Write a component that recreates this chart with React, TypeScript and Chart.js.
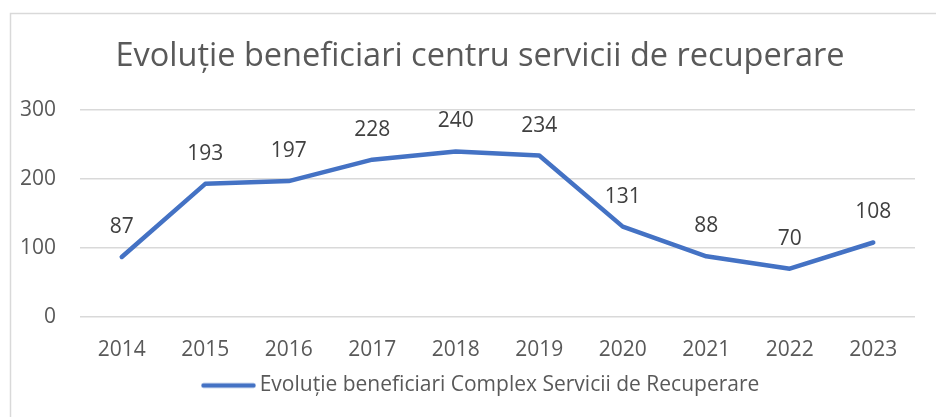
import React, { useEffect, useRef } from "react";
import { Chart, registerables } from "chart.js";

Chart.register(...registerables);

const TITLE = "Evoluție beneficiari centru servicii de recuperare";
const SERIES_LABEL = "Evoluție beneficiari Complex Servicii de Recuperare";
const YEARS = ["2014", "2015", "2016", "2017", "2018", "2019", "2020", "2021", "2022", "2023"];
const VALUES = [87, 193, 197, 228, 240, 234, 131, 88, 70, 108];
const Y_TICKS = [0, 100, 200, 300];

const FONT = "'Open Sans', sans-serif";
const LINE_COLOR = "#4472C4";

const borderPlugin = {
  id: "outerBorder",
  beforeDraw(chart: any) {
    const ctx = chart.ctx;
    ctx.save();
    ctx.fillStyle = "#ffffff";
    ctx.fillRect(0, 0, chart.width, chart.height);
    ctx.strokeStyle = "#d9d9d9";
    ctx.lineWidth = 1.5;
    ctx.strokeRect(10.5, 13.5, chart.width + 50, chart.height + 50);
    ctx.restore();
  },
};

const labelPlugin = {
  id: "valueLabels",
  afterDatasetsDraw(chart: any) {
    const ctx = chart.ctx;
    const meta = chart.getDatasetMeta(0);
    const data = chart.data.datasets[0].data;
    ctx.save();
    ctx.font = `21px ${FONT}`;
    ctx.fillStyle = "#404040";
    ctx.textAlign = "center";
    ctx.textBaseline = "alphabetic";
    meta.data.forEach((pt: any, i: number) => {
      ctx.fillText(String(data[i]), pt.x, pt.y - 24);
    });
    ctx.restore();
  },
};

function makeLegendLine(): HTMLCanvasElement {
  const c = document.createElement("canvas");
  c.width = 62;
  c.height = 10;
  const g = c.getContext("2d")!;
  g.strokeStyle = LINE_COLOR;
  g.lineWidth = 4.5;
  g.lineCap = "round";
  g.beginPath();
  g.moveTo(9.5, 5);
  g.lineTo(59.5, 5);
  g.stroke();
  return c;
}

export default function App() {
  const ref = useRef<HTMLCanvasElement | null>(null);
  useEffect(() => {
    if (!ref.current) return;
    const legendLine = makeLegendLine();
    const chart = new Chart(ref.current, {
      type: "line",
      data: {
        labels: YEARS,
        datasets: [
          {
            label: SERIES_LABEL,
            data: VALUES,
            borderColor: LINE_COLOR,
            backgroundColor: LINE_COLOR,
            borderWidth: 4.5,
            pointRadius: 0,
            pointHoverRadius: 0,
            pointStyle: legendLine as any,
            tension: 0,
            borderCapStyle: "round",
            borderJoinStyle: "round",
          },
        ],
      },
      options: {
        responsive: false,
        animation: false,
        layout: { padding: { left: 10, right: 0, top: 13, bottom: 11 } },
        plugins: {
          title: {
            display: true,
            text: TITLE,
            color: "#595959",
            font: { family: FONT, size: 32.5, weight: "normal" },
            padding: { top: 24.5, bottom: 33.5 },
          },
          legend: {
            display: true,
            position: "bottom",
            labels: {
              usePointStyle: true,
              pointStyleWidth: 48.5,
              color: "#595959",
              font: { family: FONT, size: 21 },
              padding: 10,
            },
          },
          tooltip: { enabled: false },
        },
        scales: {
          x: {
            offset: true,
            grid: { display: false, drawTicks: false },
            border: { display: false },
            ticks: { color: "#595959", font: { family: FONT, size: 21 }, padding: 20, maxRotation: 0 },
            afterFit: (s: any) => { s.height = 48; },
          },
          y: {
            min: 0,
            max: 300,
            afterBuildTicks: (s: any) => { s.ticks = Y_TICKS.map((v) => ({ value: v })); },
            grid: { color: "#d9d9d9", lineWidth: 1.5, drawTicks: false },
            border: { display: false },
            ticks: { color: "#595959", font: { family: FONT, size: 21 }, padding: 24 },
            afterFit: (s: any) => { s.width = 70; },
          },
          yRight: {
            position: "right",
            display: true,
            min: 0,
            max: 300,
            grid: { display: false, drawTicks: false },
            border: { display: false },
            ticks: { display: false },
            afterFit: (s: any) => { s.width = 35; },
          },
        },
      },
      plugins: [borderPlugin, labelPlugin],
    });
    return () => chart.destroy();
  }, []);
  return (
    <div style={{ position: "fixed", left: 0, top: 0, width: 936, height: 417, overflow: "hidden", background: "#fff" }}>
      <canvas ref={ref} width={950} height={417} style={{ display: "block", width: 950, height: 417 }} />
    </div>
  );
}
